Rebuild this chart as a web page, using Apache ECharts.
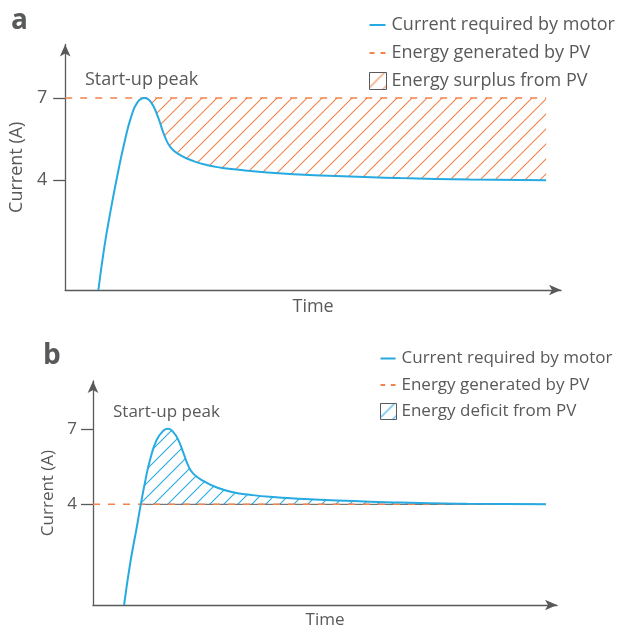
<!DOCTYPE html>
<html>
<head>
<meta charset="utf-8">
<script src="https://cdn.jsdelivr.net/npm/echarts@6/dist/echarts.min.js"></script>
<style>
  html, body { margin: 0; padding: 0; background: #ffffff; }
  #chart { width: 622px; height: 630px; }
</style>
</head>
<body>
<div id="chart"></div>
<script>
// ---------------- data ----------------
// Panel a: time (arbitrary units 0-100) and motor current (A)
const timeA    = [6.7, 7.9, 9.3, 10.6, 11.9, 13.3, 14.6, 16.0, 17.3, 18.7, 20.0, 21.3, 23.3, 26.0, 28.7, 31.4, 34.0, 40.8, 51.5, 67.6, 81.7, 97.0];
const currentA = [0.0, 1.57, 3.03, 4.24, 5.34, 6.31, 6.85, 7.0, 6.85, 6.31, 5.64, 5.19, 4.91, 4.69, 4.55, 4.46, 4.40, 4.28, 4.17, 4.08, 4.03, 4.0];
const pvLevelA = 7;          // energy generated by PV (A)
const surplusStartA = 7;     // index of start-up peak: surplus region begins here

// Panel b
const timeB    = [6.7, 8.0, 9.4, 10.3, 11.2, 12.3, 13.7, 15.2, 16.2, 17.3, 18.4, 19.5, 20.5, 21.6, 23.8, 26.7, 30.2, 33.8, 38.1, 48.9, 66.2, 80.6, 97.6];
const currentB = [0.0, 1.64, 3.06, 4.0, 4.87, 5.77, 6.55, 6.93, 7.0, 6.87, 6.55, 6.03, 5.55, 5.22, 4.93, 4.67, 4.48, 4.38, 4.30, 4.18, 4.07, 4.02, 4.0];
const pvLevelB = 4;
const deficitStartB = 3;     // index where current crosses PV level

const yTicks = [4, 7];
const namesA = ['Current required by motor', 'Energy generated by PV', 'Energy surplus from PV'];
const namesB = ['Current required by motor', 'Energy generated by PV', 'Energy deficit from PV'];

// ---------------- styles ----------------
const FONT = '"Open Sans"';
const GRAY = '#58595b';
const BLUE = '#27aae1';
const ORANGE = '#f0844c';

function hatch(color, s) {
  const c = document.createElement('canvas');
  c.width = s; c.height = s;
  const g = c.getContext('2d');
  g.strokeStyle = color; g.lineWidth = 1.1;
  g.beginPath();
  g.moveTo(-1, s + 1); g.lineTo(s + 1, -1);
  g.moveTo(-1, 1); g.lineTo(1, -1);
  g.moveTo(s - 1, s + 1); g.lineTo(s + 1, s - 1);
  g.stroke();
  return c;
}
const hatchA = { image: hatch(ORANGE, 15), repeat: 'repeat' };
const hatchB = { image: hatch(BLUE, 14), repeat: 'repeat' };

const zip = (xs, ys) => xs.map((x, i) => [x, ys[i]]);
const curveA = zip(timeA, currentA);
const curveB = zip(timeB, currentB);

function mkX(idx, fs, gap) {
  return {
    type: 'value', gridIndex: idx, min: 0, max: 100,
    name: 'Time', nameLocation: 'middle', nameGap: gap,
    nameTextStyle: { fontFamily: FONT, fontSize: fs, color: GRAY },
    axisLine: { show: true, onZero: false, symbol: ['none', 'arrow'], symbolSize: [8, 12],
                lineStyle: { color: GRAY, width: 1.3 } },
    axisTick: { show: false }, axisLabel: { show: false }, splitLine: { show: false }
  };
}
function mkY(idx, max, fs, margin, gap) {
  return {
    type: 'value', gridIndex: idx, min: 0, max: max,
    name: 'Current (A)', nameLocation: 'middle', nameGap: gap, nameRotate: 90,
    nameTextStyle: { fontFamily: FONT, fontSize: fs, color: GRAY },
    axisLine: { show: true, onZero: false, symbol: ['none', 'arrow'], symbolSize: [8, 12],
                lineStyle: { color: GRAY, width: 1.3 } },
    axisTick: { show: true, customValues: yTicks, length: 12, lineStyle: { color: GRAY, width: 1.3 } },
    axisLabel: { show: true, customValues: yTicks, margin: margin, fontFamily: FONT, fontSize: fs, color: GRAY },
    splitLine: { show: false }
  };
}

// legend icons (box with tiny corner specks so the shape keeps its place)
const SPECK = 'M0,0h0.01v0.01h-0.01z M16.99,16.99h0.01v0.01h-0.01z';
const lineIcon = 'path://' + SPECK + ' M0,7.5h16v2h-16z';
const dashIcon = 'path://' + SPECK + ' M0,7.5h5v2h-5z M11,7.5h5v2h-5z';

function legend(names, left, top, fs, size, gap, hatchFill) {
  return {
    orient: 'vertical', left: left, top: top, itemWidth: size, itemHeight: size, itemGap: gap,
    selectedMode: false,
    textStyle: { fontFamily: FONT, fontSize: fs, color: GRAY, lineHeight: size },
    data: [
      { name: names[0], icon: lineIcon, itemStyle: { color: BLUE } },
      { name: names[1], icon: dashIcon, itemStyle: { color: ORANGE } },
      { name: names[2], icon: 'rect', itemStyle: { color: hatchFill, borderColor: GRAY, borderWidth: 1 } }
    ]
  };
}

const option = {
  animation: false,
  backgroundColor: '#ffffff',
  grid: [
    { left: 64, right: 61, top: 44.5, bottom: 340 },
    { left: 93, right: 65, top: 381, bottom: 19.5 }
  ],
  xAxis: [mkX(0, 18, 8), mkX(1, 17, 7)],
  yAxis: [mkY(0, 8.95, 18, 18, 36.5), mkY(1, 8.9, 17, 16, 33)],
  legend: [
    legend(namesA, 364, 11, 18, 17, 10, hatchA),
    legend(namesB, 375, 345, 17, 16, 9.5, hatchB)
  ],
  series: [
    // ---- panel a ----
    { name: namesA[2], type: 'line', xAxisIndex: 0, yAxisIndex: 0, z: 2,
      data: curveA.slice(surplusStartA), smooth: true, symbol: 'none',
      lineStyle: { width: 0, opacity: 0 }, itemStyle: { color: ORANGE },
      areaStyle: { origin: pvLevelA, color: hatchA, opacity: 1 } },
    { name: namesA[1], type: 'line', xAxisIndex: 0, yAxisIndex: 0, z: 4,
      data: [[0, pvLevelA], [timeA[timeA.length - 1], pvLevelA]], symbol: 'none',
      lineStyle: { color: ORANGE, width: 1.5, type: [7, 8] }, itemStyle: { color: ORANGE } },
    { name: namesA[0], type: 'line', xAxisIndex: 0, yAxisIndex: 0, z: 5,
      data: curveA, smooth: true, symbol: 'none',
      lineStyle: { color: BLUE, width: 2 }, itemStyle: { color: BLUE } },
    // ---- panel b ----
    { name: namesB[2], type: 'line', xAxisIndex: 1, yAxisIndex: 1, z: 2,
      data: curveB.slice(deficitStartB), smooth: true, symbol: 'none',
      lineStyle: { width: 0, opacity: 0 }, itemStyle: { color: BLUE },
      areaStyle: { origin: pvLevelB, color: hatchB, opacity: 1 } },
    { type: 'line', xAxisIndex: 1, yAxisIndex: 1, z: 3, silent: true,
      data: [[timeB[deficitStartB], pvLevelB], [timeB[timeB.length - 1], pvLevelB]], symbol: 'none',
      lineStyle: { color: GRAY, width: 1 } },
    { name: namesB[1], type: 'line', xAxisIndex: 1, yAxisIndex: 1, z: 4,
      data: [[0, pvLevelB], [timeB[timeB.length - 1], pvLevelB]], symbol: 'none',
      lineStyle: { color: ORANGE, width: 1.5, type: [7, 8] }, itemStyle: { color: ORANGE } },
    { name: namesB[0], type: 'line', xAxisIndex: 1, yAxisIndex: 1, z: 5,
      data: curveB, smooth: true, symbol: 'none',
      lineStyle: { color: BLUE, width: 2 }, itemStyle: { color: BLUE } }
  ],
  graphic: [
    { type: 'text', left: 11, top: 7, style: { text: 'a', fontFamily: FONT, fontSize: 28, fontWeight: 'bold', fill: GRAY } },
    { type: 'text', left: 43, top: 342, style: { text: 'b', fontFamily: FONT, fontSize: 28, fontWeight: 'bold', fill: GRAY } },
    { type: 'text', left: 85, top: 71, style: { text: 'Start-up peak', fontFamily: FONT, fontSize: 18, fill: GRAY } },
    { type: 'text', left: 113, top: 404, style: { text: 'Start-up peak', fontFamily: FONT, fontSize: 17, fill: GRAY } }
  ]
};

const chart = echarts.init(document.getElementById('chart'), null, { renderer: 'canvas' });
chart.setOption(option);
</script>
</body>
</html>
